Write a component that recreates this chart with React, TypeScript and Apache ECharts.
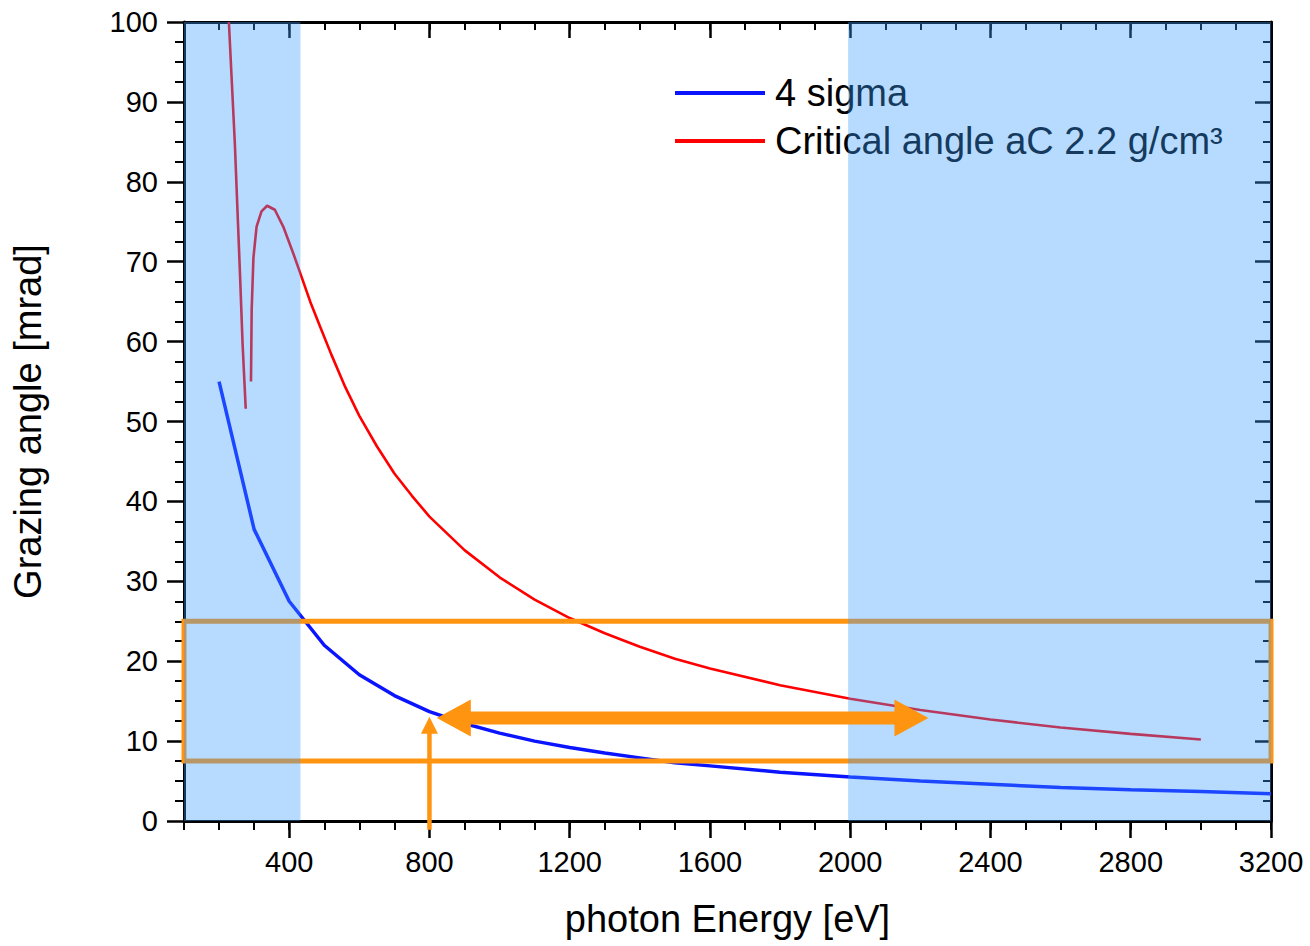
import React, { useEffect, useRef } from "react";
import * as echarts from "echarts";

// ---- data ----
const sigmaEnergy = [200, 300, 400, 500, 600, 700, 800, 900, 1000, 1100, 1200, 1300, 1400, 1500, 1600, 1800, 2000, 2200, 2400, 2600, 2800, 3000, 3200];
const sigmaAngle = [55, 36.5, 27.5, 22, 18.3, 15.7, 13.7, 12.2, 11, 10, 9.2, 8.5, 7.9, 7.3, 6.9, 6.1, 5.5, 5.0, 4.6, 4.2, 3.9, 3.7, 3.4];

const criticalEnergy = [228, 245, 260, 267, 276, 283, 291, 293, 298, 307, 321, 337, 359, 383, 412, 432, 460, 488, 520, 560, 600, 650, 700, 750, 800, 900, 1000, 1100, 1200, 1300, 1400, 1500, 1600, 1800, 2000, 2200, 2400, 2600, 2800, 3000];
const criticalAngle: (number | null)[] = [100, 84.8, 68.1, 59.8, 51.6, null, 55, 64, 70.5, 74.4, 76.3, 77, 76.5, 74.4, 71, 68.5, 65, 61.9, 58.4, 54.3, 50.7, 46.9, 43.5, 40.7, 38.1, 33.9, 30.5, 27.7, 25.4, 23.5, 21.8, 20.3, 19.1, 17.0, 15.3, 13.9, 12.7, 11.7, 10.9, 10.2];

const xLabelTicks = [400, 800, 1200, 1600, 2000, 2400, 2800, 3200];
const xMinorTicks = [100, 200, 300, 400, 500, 600, 700, 800, 900, 1000, 1100, 1200, 1300, 1400, 1500, 1600, 1700, 1800, 1900, 2000, 2100, 2200, 2300, 2400, 2500, 2600, 2700, 2800, 2900, 3000, 3100, 3200];

// shaded energy bands [from, to]
const shadedBands = [[100, 432], [1994, 3200]];
// acceptance box
const boxEnergy = [100, 3200];
const boxAngle = [7.5, 25];
// arrows: [xTail, yTail, xTip, yTip]
const doubleArrow = [[821, 12.9, 2223, 12.9]];
const upArrow = [[800, -1.1, 800, 13.05]];

const FONT = "'Liberation Sans', Arial, sans-serif";
const ORANGE = "#FF9410";
const SHADE = "rgba(59,157,254,0.37)";
const BLUE = "#0A14FF";
const RED = "#FF0000";

function arrowRender(headLen: number, headW: number, shaftW: number, doubleHead: boolean) {
  return (params: any, api: any) => {
    const a = api.coord([api.value(0), api.value(1)]);
    const b = api.coord([api.value(2), api.value(3)]);
    const dx = b[0] - a[0];
    const dy = b[1] - a[1];
    const len = Math.sqrt(dx * dx + dy * dy) || 1;
    const ux = dx / len;
    const uy = dy / len;
    const px = -uy;
    const py = ux;
    const head = (tip: number[], dirx: number, diry: number) => {
      const bx = tip[0] - dirx * headLen;
      const by = tip[1] - diry * headLen;
      return {
        type: "polygon",
        shape: {
          points: [
            [tip[0], tip[1]],
            [bx + px * headW / 2, by + py * headW / 2],
            [bx - px * headW / 2, by - py * headW / 2],
          ],
        },
        style: { fill: ORANGE },
      };
    };
    const start = doubleHead ? [a[0] + ux * (headLen - 1), a[1] + uy * (headLen - 1)] : a;
    const end = [b[0] - ux * (headLen - 1), b[1] - uy * (headLen - 1)];
    const children: any[] = [
      {
        type: "line",
        shape: { x1: start[0], y1: start[1], x2: end[0], y2: end[1] },
        style: { stroke: ORANGE, lineWidth: shaftW },
      },
      head(b, ux, uy),
    ];
    if (doubleHead) children.push(head(a, -ux, -uy));
    return { type: "group", children };
  };
}

export default function App() {
  const ref = useRef<HTMLDivElement>(null);
  useEffect(() => {
    if (!ref.current) return;
    const chart = echarts.init(ref.current, null, { renderer: "svg" });
    const tickColor = "#000";
    const plain = (v: number) => String(v);
    const option: any = {
      animation: false,
      grid: { left: 184, top: 22, width: 1087, height: 799, containLabel: false },
      legend: {
        orient: "vertical",
        left: 670,
        top: 69,
        itemWidth: 90,
        itemHeight: 4,
        itemGap: 10,
        selectedMode: false,
        textStyle: { fontSize: 38, color: "#000", fontFamily: FONT, padding: [0, 0, 0, 5] },
        data: [
          { name: "4 sigma", icon: "rect" },
          { name: "Critical angle aC 2.2 g/cm³", icon: "rect" },
        ],
      },
      xAxis: [
        {
          type: "value",
          position: "bottom",
          min: 100,
          max: 3200,
          interval: 100,
          axisLine: { show: true, onZero: false, lineStyle: { color: "#000", width: 3 } },
          axisTick: { show: true, customValues: xLabelTicks, length: 17, lineStyle: { color: tickColor, width: 2.5 } },
          axisLabel: { show: true, customValues: xLabelTicks, formatter: plain, fontSize: 29, color: "#000", fontFamily: FONT, margin: 26 },
          splitLine: { show: false },
          name: "photon Energy [eV]",
          nameLocation: "middle",
          nameGap: 79,
          nameTextStyle: { fontSize: 38, color: "#000", fontFamily: FONT, verticalAlign: "top" },
        },
        {
          type: "value",
          position: "bottom",
          min: 100,
          max: 3200,
          interval: 100,
          axisLine: { show: false, onZero: false },
          axisTick: { show: true, customValues: xMinorTicks, length: 9, lineStyle: { color: tickColor, width: 2 } },
          axisLabel: { show: false },
          splitLine: { show: false },
        },
        {
          type: "value",
          position: "top",
          min: 100,
          max: 3200,
          interval: 100,
          axisLine: { show: true, onZero: false, lineStyle: { color: "#000", width: 3 } },
          axisTick: { show: true, inside: true, customValues: xLabelTicks, length: 16, lineStyle: { color: tickColor, width: 2.5 } },
          axisLabel: { show: false },
          splitLine: { show: false },
        },
        {
          type: "value",
          position: "top",
          min: 100,
          max: 3200,
          interval: 100,
          axisLine: { show: false, onZero: false },
          axisTick: { show: true, inside: true, customValues: xMinorTicks, length: 8, lineStyle: { color: tickColor, width: 2 } },
          axisLabel: { show: false },
          splitLine: { show: false },
        },
      ],
      yAxis: [
        {
          type: "value",
          position: "left",
          min: 0,
          max: 100,
          interval: 10,
          axisLine: { show: true, onZero: false, lineStyle: { color: "#000", width: 3 } },
          axisTick: { show: true, length: 17, lineStyle: { color: tickColor, width: 2.5 } },
          minorTick: { show: true, splitNumber: 4, length: 9, lineStyle: { color: tickColor, width: 2 } },
          axisLabel: { fontSize: 29, color: "#000", fontFamily: FONT, margin: 26, formatter: plain },
          splitLine: { show: false },
          minorSplitLine: { show: false },
          name: "Grazing angle [mrad]",
          nameLocation: "middle",
          nameGap: 137,
          nameRotate: 90,
          nameTextStyle: { fontSize: 38, color: "#000", fontFamily: FONT },
        },
        {
          type: "value",
          position: "right",
          min: 0,
          max: 100,
          interval: 10,
          axisLine: { show: true, onZero: false, lineStyle: { color: "#000", width: 3 } },
          axisTick: { show: true, inside: true, length: 16, lineStyle: { color: tickColor, width: 2.5 } },
          minorTick: { show: true, splitNumber: 4, length: 8, lineStyle: { color: tickColor, width: 2 } },
          axisLabel: { show: false },
          splitLine: { show: false },
          minorSplitLine: { show: false },
        },
      ],
      series: [
        {
          name: "4 sigma",
          type: "line",
          xAxisIndex: 0,
          yAxisIndex: 0,
          data: sigmaEnergy.map((e, i) => [e, sigmaAngle[i]]),
          showSymbol: false,
          symbol: "none",
          color: BLUE,
          lineStyle: { color: BLUE, width: 3.5 },
          z: 3,
        },
        {
          name: "Critical angle aC 2.2 g/cm³",
          type: "line",
          xAxisIndex: 0,
          yAxisIndex: 0,
          data: criticalEnergy.map((e, i) => [e, criticalAngle[i] === null ? "-" : criticalAngle[i]]),
          connectNulls: false,
          showSymbol: false,
          symbol: "none",
          color: RED,
          lineStyle: { color: RED, width: 2.6 },
          z: 3,
        },
        {
          name: "box",
          type: "line",
          xAxisIndex: 0,
          yAxisIndex: 0,
          data: [],
          z: 4,
          markArea: {
            silent: true,
            z: 4,
            itemStyle: { color: "rgba(0,0,0,0)", borderColor: ORANGE, borderWidth: 5 },
            data: [[{ xAxis: boxEnergy[0], yAxis: boxAngle[1] }, { xAxis: boxEnergy[1], yAxis: boxAngle[0] }]],
          },
        },
        {
          name: "upArrow",
          type: "custom",
          xAxisIndex: 0,
          yAxisIndex: 0,
          clip: false,
          silent: true,
          z: 5,
          encode: { x: [0, 2], y: [1, 3] },
          data: upArrow,
          renderItem: arrowRender(17, 17, 4.5, false),
        },
        {
          name: "shade",
          type: "line",
          xAxisIndex: 0,
          yAxisIndex: 0,
          data: [],
          z: 10,
          markArea: {
            silent: true,
            z: 10,
            itemStyle: { color: SHADE },
            data: shadedBands.map((b) => [{ xAxis: b[0] }, { xAxis: b[1] }]),
          },
        },
        {
          name: "doubleArrow",
          type: "custom",
          xAxisIndex: 0,
          yAxisIndex: 0,
          clip: false,
          silent: true,
          z: 12,
          encode: { x: [0, 2], y: [1, 3] },
          data: doubleArrow,
          renderItem: arrowRender(34, 37, 13, true),
        },
      ],
    };
    chart.setOption(option);
    return () => chart.dispose();
  }, []);
  return (
    <div
      ref={ref}
      style={{ position: "fixed", left: 0, top: 0, width: 1310, height: 946, background: "#fff" }}
    />
  );
}
